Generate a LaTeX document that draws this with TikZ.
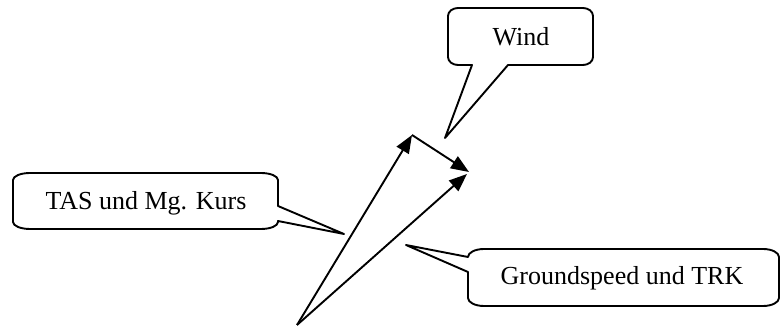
\documentclass[tikz,border=0pt]{standalone}
\usepackage{fontspec}
\setmainfont{Liberation Serif}
\usetikzlibrary{arrows.meta}

\tikzset{
  callout/.style={line width=1.9pt, line join=round},
  vec/.style={line width=1.9pt, -{Triangle[length=18pt,width=14pt]}},
  lbl/.style={anchor=base, inner sep=0pt, font=\fontsize{26}{30}\selectfont}
}

\begin{document}
\begin{tikzpicture}[x=1pt,y=1pt]
		\useasboundingbox (0,0) rectangle (781,326);
		% vector triangle
		\coordinate (O) at (297,1);
		\coordinate (T) at (412,191);
		\coordinate (W) at (469,154);
		\coordinate (G) at (467,152);
		\draw [vec] (O) -- (T);
		\draw [vec] (T) -- (W);
		\draw [vec] (O) -- (G);
		% callout tips
		\coordinate (windTip) at (445,188);
		\coordinate (tasTip) at (344,92);
		\coordinate (gsTip) at (406,81);
		% Wind
		\draw [callout] (458,318) -- (583,318) arc [start angle=90, end angle=0, x radius=10, y radius=8]
			-- (593,269) arc [start angle=0, end angle=-90, x radius=10, y radius=8]
			-- (508,261) -- (windTip) -- (472,261)
			-- (458,261) arc [start angle=270, end angle=180, x radius=10, y radius=8]
			-- (448,310) arc [start angle=180, end angle=90, x radius=10, y radius=8] -- cycle;
		\node [lbl] (windLbl) at (521,280) {Wind};
		% TAS und Mg. Kurs
		\draw [callout] (30,153) -- (261,153) arc [start angle=90, end angle=0, x radius=17, y radius=7]
			-- (278,120) -- (tasTip) -- (278,105)
			-- (278,104) arc [start angle=0, end angle=-90, x radius=17, y radius=7]
			-- (30,97) arc [start angle=270, end angle=180, x radius=17, y radius=7]
			-- (13,146) arc [start angle=180, end angle=90, x radius=17, y radius=7] -- cycle;
		\node [lbl] (tasLbl) at (146,116) {TAS und Mg. Kurs};
		% Groundspeed und TRK
		\draw [callout] (484,77) -- (763,77) arc [start angle=90, end angle=0, x radius=16, y radius=8]
			-- (779,28) arc [start angle=0, end angle=-90, x radius=16, y radius=8]
			-- (484,20) arc [start angle=270, end angle=180, x radius=16, y radius=8]
			-- (468,54) -- (gsTip) -- (468,69)
			arc [start angle=180, end angle=90, x radius=16, y radius=8] -- cycle;
		\node [lbl] (gsLbl) at (622,41) {Groundspeed und TRK};
	\end{tikzpicture}
\end{document}
